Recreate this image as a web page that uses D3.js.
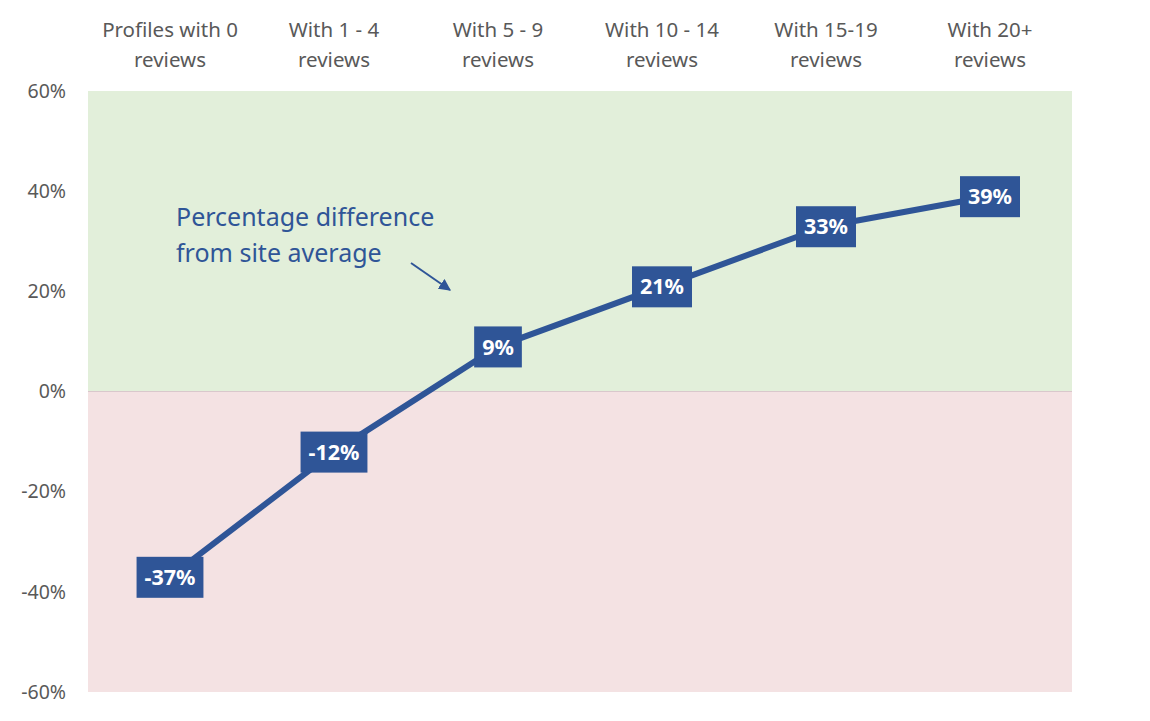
<!DOCTYPE html>
<html>
<head>
<meta charset="utf-8">
<script src="https://cdn.jsdelivr.net/npm/d3@7"></script>
<style>
body{margin:0;background:#fff;}
svg{font-family:"Noto Sans","Open Sans",sans-serif;}
</style>
</head>
<body>
<div id="graphHolder"></div>
<script>
var categories = ["Profiles with 0|reviews","With 1 - 4|reviews","With 5 - 9|reviews","With 10 - 14|reviews","With 15-19|reviews","With 20+|reviews"];
var values = [-37,-12,9,21,33,39];
var yTicks = [60,40,20,0,-20,-40,-60];

function drawChart(){
	var W = 1150, H = 721;
	var plotLeft = 88, plotRight = 1072, plotTop = 91, plotBottom = 692;

	var svg = d3.select("#graphHolder").append("svg")
		.attr("width",W).attr("height",H);

	var x = d3.scaleBand().domain(categories).range([plotLeft,plotRight]);
	var y = d3.scaleLinear().domain([-60,60]).range([plotBottom,plotTop]);

	// background bands
	svg.append("rect")
		.attr("x",plotLeft).attr("y",y(60))
		.attr("width",plotRight-plotLeft).attr("height",y(0)-y(60))
		.style("fill","#e2efda");
	svg.append("rect")
		.attr("x",plotLeft).attr("y",y(0))
		.attr("width",plotRight-plotLeft).attr("height",y(-60)-y(0))
		.style("fill","#f4e2e3");
	svg.append("line")
		.attr("x1",plotLeft).attr("x2",plotRight)
		.attr("y1",y(0)).attr("y2",y(0))
		.style("stroke","#d9c8cc").style("stroke-width",1);

	// y axis labels
	var yAxis = d3.axisLeft(y).tickValues(yTicks).tickSize(0).tickPadding(22)
		.tickFormat(function(d){return d+"%";});
	var gy = svg.append("g").attr("transform","translate("+plotLeft+",0)").call(yAxis);
	gy.select(".domain").remove();
	gy.selectAll("text").style("font-size","19.5px").style("fill","#595959")
		.style("font-family","'Noto Sans',sans-serif");

	// category labels at the top
	var catG = svg.append("g");
	categories.forEach(function(c){
		var parts = c.split("|");
		var cx = x(c)+x.bandwidth()/2;
		var t = catG.append("text")
			.attr("text-anchor","middle")
			.style("font-size","20.5px").style("fill","#595959");
		t.append("tspan").attr("x",cx).attr("y",37).text(parts[0]);
		t.append("tspan").attr("x",cx).attr("y",67).text(parts[1]);
	});

	// line
	var line = d3.line()
		.x(function(d,i){return x(categories[i])+x.bandwidth()/2;})
		.y(function(d){return y(d);});
	svg.append("path").datum(values)
		.attr("d",line)
		.style("fill","none").style("stroke","#2f5597").style("stroke-width",6)
		.style("stroke-linejoin","round");

	// data labels
	var lab = svg.selectAll(".lab").data(values).enter().append("g").attr("class","lab")
		.attr("transform",function(d,i){return "translate("+(x(categories[i])+x.bandwidth()/2)+","+y(d)+")";});
	lab.append("text")
		.attr("text-anchor","middle").attr("dy","0.38em")
		.style("font-size","21.5px").style("font-weight","bold").style("fill","#fff")
		.text(function(d){return d+"%";});
	lab.each(function(){
		var g = d3.select(this);
		var bb = g.select("text").node().getBBox();
		g.insert("rect","text")
			.attr("x",bb.x-8).attr("y",-20)
			.attr("width",bb.width+16).attr("height",41)
			.style("fill","#2f5597");
	});

	// annotation
	var ann = svg.append("text").style("font-size","25px").style("fill","#2f5597");
	ann.append("tspan").attr("x",176).attr("y",226).text("Percentage difference");
	ann.append("tspan").attr("x",176).attr("y",262).text("from site average");
	svg.append("defs").append("marker")
		.attr("id","arr").attr("viewBox","0 0 10 10").attr("refX",9).attr("refY",5)
		.attr("markerWidth",6).attr("markerHeight",6).attr("orient","auto")
		.append("path").attr("d","M0,0 L10,5 L0,10 z").style("fill","#2f5597");
	svg.append("line")
		.attr("x1",411).attr("y1",263).attr("x2",450).attr("y2",290)
		.style("stroke","#2f5597").style("stroke-width",2)
		.attr("marker-end","url(#arr)");
}
drawChart();
</script>
</body>
</html>
